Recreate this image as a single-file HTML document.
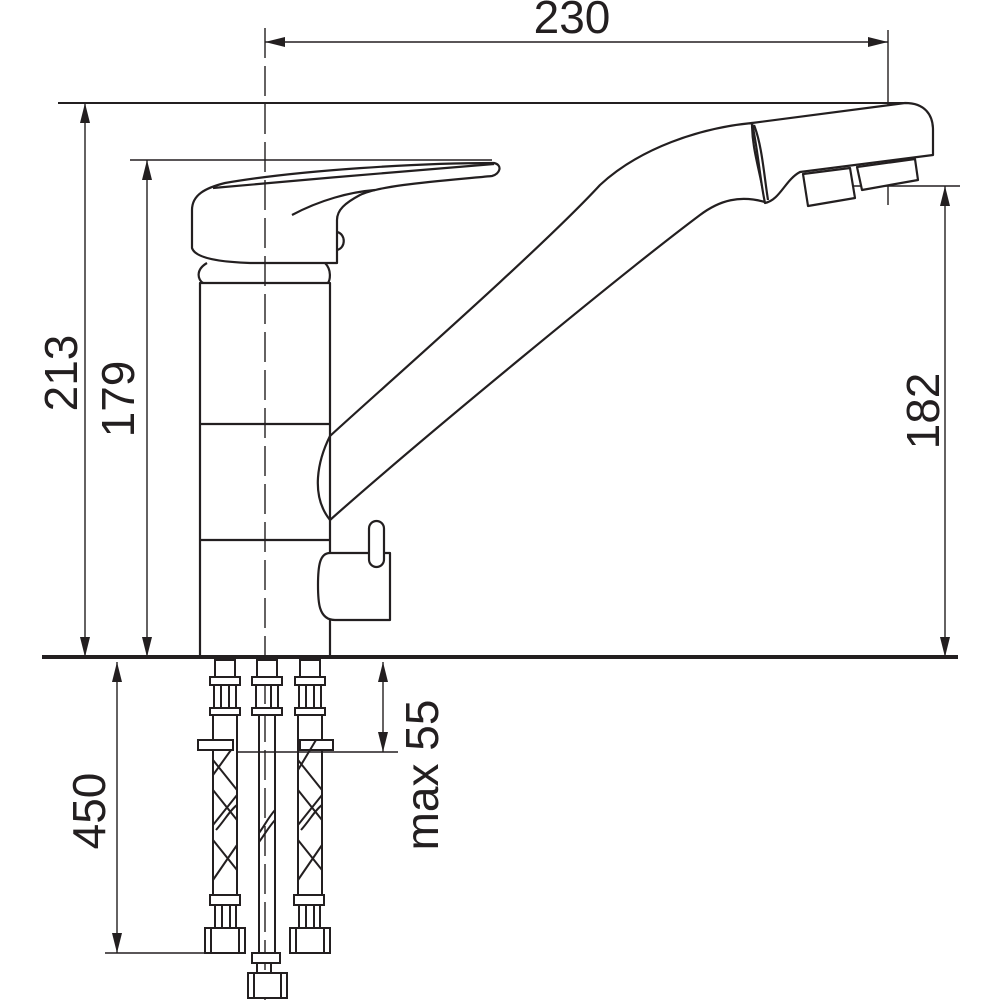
<!DOCTYPE html>
<html><head><meta charset="utf-8"><style>
html,body{margin:0;padding:0;background:#fff;}
svg{display:block;}
text{font-family:"Liberation Sans",sans-serif;font-size:46px;fill:#231f20;}
</style></head><body>
<svg width="1000" height="1000" viewBox="0 0 1000 1000" xmlns="http://www.w3.org/2000/svg">
<defs>
<marker id="a" viewBox="0 0 20 10" refX="20" refY="5" markerWidth="20" markerHeight="10" markerUnits="userSpaceOnUse" orient="auto-start-reverse"><path d="M0,0 L20,5 L0,10 Z" fill="#231f20"/></marker>
</defs>
<g stroke="#231f20" fill="none" stroke-width="1.4">
<line x1="888" y1="30" x2="888" y2="100"/>
<line x1="265" y1="42" x2="888" y2="42" marker-start="url(#a)" marker-end="url(#a)"/>
<line x1="58" y1="103" x2="905" y2="103" stroke-width="2"/>
<line x1="85" y1="103" x2="85" y2="657" marker-start="url(#a)" marker-end="url(#a)"/>
<line x1="130" y1="160" x2="492" y2="160"/>
<line x1="147" y1="160" x2="147" y2="657" marker-start="url(#a)" marker-end="url(#a)"/>
<line x1="829" y1="186" x2="960" y2="186"/>
<line x1="945" y1="186" x2="945" y2="657" marker-start="url(#a)" marker-end="url(#a)"/>
<line x1="888" y1="100" x2="888" y2="135"/>
<line x1="888" y1="170" x2="888" y2="205"/>
</g>
<g stroke="#231f20" fill="#fff" stroke-width="2.2" stroke-linejoin="round">
<path d="M330,436 C380,390 540,250 600,185 C640,148 700,128 752,123 C752,150 760,170 765,202 C740,195 720,200 700,215 C620,275 420,440 330,520 C318,500 310,470 330,436 Z"/>
<path d="M752,123 L905,103 C925,103 933,115 933,130 L933,155 L800,172 C785,180 780,200 765,203 C760,180 758,150 752,123 Z"/>
<path d="M754,125 C762,145 764,175 768,200" fill="none"/>
<path d="M803,174 L850,168 L855,198 L808,206 Z"/>
<path d="M857,167 L915,159 L918,180 L862,190 Z"/>
<rect x="200" y="283" width="130" height="374"/>
<line x1="200" y1="424" x2="330" y2="424"/>
<line x1="200" y1="540" x2="330" y2="540"/>
<path d="M330,436 C318,460 310,495 330,520" fill="none"/>
<path d="M207,263 C195,270 198,280 203,283 M325,263 C332,270 330,280 328,283" fill="none"/>
<path d="M192,210 C192,195 205,188 225,183 C300,170 420,163 494,163 C503,165 500,174 492,176 C440,181 380,185 360,195 C345,203 337,210 337,220 L337,263 L250,263 C220,262 195,258 192,248 Z"/>
<path d="M213,188 C300,180 420,170 494,164" fill="none"/>
<path d="M292,215 C320,200 350,192 375,190" fill="none"/>
<path d="M337,232 C346,234 346,248 337,250" fill="none"/>
<path d="M330,553 L390,553 L390,620 L335,620 C318,620 318,600 318,585 C318,565 320,553 330,553 Z"/>
<rect x="369" y="521" width="15" height="46" rx="7.5"/>
</g>
<line x1="265" y1="28" x2="265" y2="1000" stroke="#231f20" stroke-width="1.4" stroke-dasharray="30,8"/>
<line x1="42" y1="657" x2="958" y2="657" stroke="#231f20" stroke-width="4"/>
<g stroke="#231f20" fill="none" stroke-width="2">
<rect x="215" y="660" width="20" height="17"/>
<rect x="210" y="677" width="30" height="8"/>
<line x1="214" y1="685" x2="214" y2="708"/><line x1="221" y1="685" x2="221" y2="708"/><line x1="229" y1="685" x2="229" y2="708"/><line x1="236" y1="685" x2="236" y2="708"/>
<rect x="210" y="708" width="30" height="7"/>
<line x1="213" y1="715" x2="213" y2="895"/><line x1="237" y1="715" x2="237" y2="895"/>
<rect x="198" y="740" width="35" height="10" fill="#fff"/>
<path d="M213,760 L237,790 M231,750 L213,775 M213,790 L237,820 M237,795 L213,825 M213,840 L237,870 M237,845 L213,880 M216,830 C225,820 230,810 237,805"/>
<rect x="210" y="895" width="30" height="10"/>
<line x1="215" y1="905" x2="215" y2="928"/><line x1="222" y1="905" x2="222" y2="928"/><line x1="230" y1="905" x2="230" y2="928"/><line x1="236" y1="905" x2="236" y2="928"/>
<rect x="205" y="928" width="40" height="25"/>
<line x1="211" y1="928" x2="211" y2="953"/><line x1="239" y1="928" x2="239" y2="953"/>
<rect x="257" y="660" width="20" height="17" fill="#fff"/>
<rect x="252" y="677" width="30" height="8" fill="#fff"/>
<line x1="256" y1="685" x2="256" y2="708"/><line x1="271" y1="685" x2="271" y2="708"/><line x1="278" y1="685" x2="278" y2="708"/>
<rect x="252" y="708" width="30" height="7" fill="#fff"/>
<line x1="259" y1="715" x2="259" y2="953"/><line x1="275" y1="715" x2="275" y2="953"/>
<path d="M259,833 C265,825 268,818 275,810 M259,842 C265,834 268,828 275,820"/>
<rect x="252" y="953" width="28" height="10" fill="#fff"/>
<line x1="257" y1="963" x2="257" y2="973"/><line x1="271" y1="963" x2="271" y2="973"/>
<rect x="248" y="973" width="39" height="25" fill="#fff"/>
<line x1="254" y1="973" x2="254" y2="998"/><line x1="281" y1="973" x2="281" y2="998"/>
<rect x="300" y="660" width="20" height="17"/>
<rect x="295" y="677" width="30" height="8"/>
<line x1="299" y1="685" x2="299" y2="708"/><line x1="306" y1="685" x2="306" y2="708"/><line x1="314" y1="685" x2="314" y2="708"/><line x1="321" y1="685" x2="321" y2="708"/>
<rect x="295" y="708" width="30" height="7"/>
<line x1="298" y1="715" x2="298" y2="895"/><line x1="322" y1="715" x2="322" y2="895"/>
<rect x="300" y="740" width="33" height="10" fill="#fff"/>
<path d="M298,760 L322,790 M316,740 L298,770 M298,790 L322,820 M322,795 L298,825 M298,840 L322,870 M322,845 L298,880 M301,830 C310,820 315,810 322,805"/>
<rect x="294" y="895" width="30" height="10"/>
<line x1="299" y1="905" x2="299" y2="928"/><line x1="306" y1="905" x2="306" y2="928"/><line x1="314" y1="905" x2="314" y2="928"/><line x1="320" y1="905" x2="320" y2="928"/>
<rect x="290" y="928" width="40" height="25"/>
<line x1="296" y1="928" x2="296" y2="953"/><line x1="324" y1="928" x2="324" y2="953"/>
</g>
<g stroke="#231f20" fill="none" stroke-width="1.4">
<line x1="105" y1="953" x2="205" y2="953"/>
<line x1="117" y1="662" x2="117" y2="953" marker-start="url(#a)" marker-end="url(#a)"/>
<line x1="236" y1="752" x2="398" y2="752"/>
<line x1="383" y1="662" x2="383" y2="752" marker-start="url(#a)" marker-end="url(#a)"/>
</g>
<text x="572" y="33" text-anchor="middle">230</text>
<text transform="translate(77,373) rotate(-90)" text-anchor="middle">213</text>
<text transform="translate(134,399) rotate(-90)" text-anchor="middle">179</text>
<text transform="translate(939,411) rotate(-90)" text-anchor="middle">182</text>
<text transform="translate(105,811) rotate(-90)" text-anchor="middle">450</text>
<text transform="translate(438,775) rotate(-90)" text-anchor="middle">max 55</text>
</svg>
</body></html>
